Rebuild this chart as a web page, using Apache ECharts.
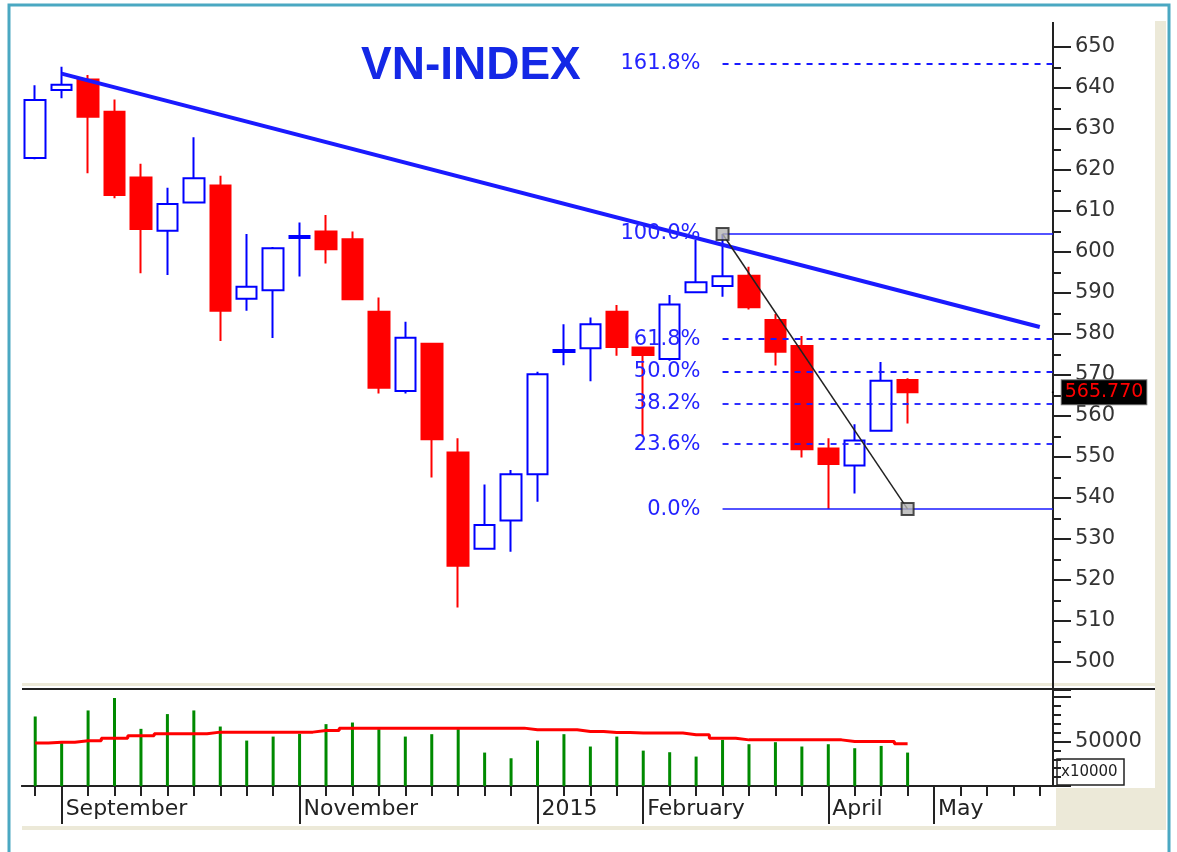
<!DOCTYPE html>
<html>
<head>
<meta charset="utf-8">
<title>VN-INDEX</title>
<script src="https://cdn.jsdelivr.net/npm/echarts@6/dist/echarts.min.js"></script>
<style>
html, body { margin: 0; padding: 0; background: #fff; }
#chart { width: 1177px; height: 852px; }
</style>
</head>
<body>
<div id="chart"></div>
<script>
// weekly bars (last trading day of each week), 5 empty future slots at the end
var weeks = [
    '2014-08-29', '2014-09-05', '2014-09-12', '2014-09-19', '2014-09-26',
    '2014-10-03', '2014-10-10', '2014-10-17', '2014-10-24', '2014-10-31',
    '2014-11-07', '2014-11-14', '2014-11-21', '2014-11-28', '2014-12-05',
    '2014-12-12', '2014-12-19', '2014-12-26', '2014-12-31', '2015-01-09',
    '2015-01-16', '2015-01-23', '2015-01-30', '2015-02-06', '2015-02-13',
    '2015-02-27', '2015-03-06', '2015-03-13', '2015-03-20', '2015-03-27',
    '2015-04-03', '2015-04-10', '2015-04-17', '2015-04-24', '2015-05-01',
    '2015-05-08', '2015-05-15', '2015-05-22', '2015-05-29'
];
var monthLabels = {1: 'September', 10: 'November', 19: '2015', 23: 'February', 30: 'April', 34: 'May'};

var openPx  = [622.9, 639.5, 642.1, 634.2, 618.2, 605.2, 612.1, 616.2, 588.6, 590.7,
               603.4, 605.0, 603.1, 585.4, 566.1, 577.6, 551.1, 527.6, 534.5, 545.8,
               575.6, 576.5, 585.4, 576.7, 573.9, 590.2, 591.7, 594.2, 583.4, 577.1,
               552.1, 547.9, 556.4, 568.8];
var closePx = [637.1, 640.8, 633.0, 613.9, 605.6, 611.7, 618.0, 585.7, 591.5, 600.9,
               603.9, 600.7, 588.5, 566.9, 579.1, 554.3, 523.5, 533.4, 545.8, 570.2,
               576.1, 582.4, 576.8, 574.9, 587.2, 592.6, 594.1, 586.5, 575.7, 551.9,
               548.3, 554.0, 568.6, 565.77];
var lowPx   = [622.6, 637.5, 619.2, 613.1, 594.8, 594.4, 611.9, 578.3, 585.7, 579.0,
               594.0, 597.2, 588.3, 565.5, 565.5, 545.0, 513.3, 527.6, 526.9, 539.1,
               572.4, 568.5, 574.7, 555.0, 573.5, 590.2, 589.1, 586.0, 572.3, 549.9,
               537.3, 541.1, 556.4, 558.2];
var highPx  = [640.7, 645.2, 643.2, 637.2, 621.5, 615.7, 628.0, 618.6, 604.4, 601.2,
               607.2, 609.0, 605.0, 588.9, 583.0, 577.8, 554.6, 543.3, 546.8, 570.8,
               582.4, 584.0, 587.1, 576.9, 589.5, 602.9, 604.4, 596.4, 584.9, 579.5,
               554.6, 558.0, 573.2, 569.2];

// volume in units of 10000 shares, and its moving average
var volume    = [78200, 48200, 85000, 99000, 64300, 80900, 85000, 66900, 51100, 55600,
                 58700, 69600, 71400, 64000, 55600, 58300, 64000, 37600, 31200, 51100,
                 58300, 44400, 55600, 39800, 38000, 33100, 51900, 47000, 49300, 44400,
                 47000, 42500, 45100, 37600];
var volumeAvg = [48300, 49300, 50800, 53800, 56400, 58700, 58700, 60600, 60600, 60600,
                 60600, 62400, 65100, 65100, 65100, 65100, 65100, 65100, 65100, 63200,
                 63200, 61300, 60200, 59500, 59500, 57600, 53800, 51900, 51900, 51900,
                 51900, 50000, 50000, 47400];

// drawings: trend line and fibonacci retracement (bar index, price)
var trendLine = [[1, 643.5], [38, 581.7]];
var fibHigh = [26, 604.4];
var fibLow = [33, 537.3];
var fibRatios = [1.618, 1.0, 0.618, 0.5, 0.382, 0.236, 0.0];
var fibLabels = ['161.8%', '100.0%', '61.8%', '50.0%', '38.2%', '23.6%', '0.0%'];
var lastClose = 565.77;

var FONT = 'DejaVu Sans';
var BLUE = '#1a1aff';
var xMax = weeks.length - 0.5;   // right edge of the last slot

var candles = openPx.map(function (o, i) {
    return [o, closePx[i], lowPx[i], highPx[i]];
});

var fibLines = fibRatios.map(function (r, i) {
    var lvl = fibLow[1] + r * (fibHigh[1] - fibLow[1]);
    var solid = (r === 1 || r === 0);
    return [{
        coord: [fibHigh[0], lvl],
        lineStyle: {color: BLUE, width: solid ? 1.5 : 1.8, type: solid ? 'solid' : [6, 6]},
        label: {
            show: true, position: 'start', distance: 22, formatter: fibLabels[i],
            color: '#2424ff', fontSize: 21, fontFamily: FONT
        }
    }, {
        coord: [xMax, lvl]
    }];
});
fibLines.push([{
    coord: fibHigh,
    lineStyle: {color: '#222', width: 1.5, type: 'solid'},
    label: {show: false}
}, {
    coord: fibLow
}]);

var isMonth = function (i) { return monthLabels[i] !== undefined; };

var chart = echarts.init(document.getElementById('chart'));

chart.setOption({
    animation: false,
    backgroundColor: '#fff',
    title: {
        text: 'VN-INDEX',
        left: 356,
        top: 38,
        textStyle: {fontSize: 46, fontWeight: 'bold', fontFamily: 'Liberation Sans', color: '#1428e6'}
    },
    grid: [
        {left: 22, top: 47, width: 1031, height: 615},
        {left: 22, top: 690, width: 1031, height: 96}
    ],
    xAxis: [{
        type: 'category', gridIndex: 0, data: weeks, show: false
    }, {
        type: 'value', gridIndex: 0, min: -0.5, max: xMax, show: false
    }, {
        type: 'category', gridIndex: 1, data: weeks, position: 'bottom',
        axisLine: {lineStyle: {color: '#222', width: 2}},
        axisTick: {show: true, alignWithLabel: true, interval: 0, length: 10, lineStyle: {color: '#222', width: 2}},
        axisLabel: {show: false}
    }, {
        type: 'category', gridIndex: 1, data: weeks, position: 'bottom',
        axisLine: {show: true, lineStyle: {color: '#222', width: 2}},
        axisTick: {
            show: true, alignWithLabel: true, length: 38, interval: isMonth,
            lineStyle: {color: '#222', width: 2}
        },
        axisLabel: {
            show: true,
            interval: isMonth,
            formatter: function (v, i) { return monthLabels[i] || ''; },
            align: 'left', padding: [0, 0, 0, 4], margin: 12,
            fontSize: 22, fontFamily: FONT, color: '#222'
        }
    }],
    yAxis: [{
        type: 'value', gridIndex: 0, position: 'right', min: 500, max: 650, interval: 10,
        splitLine: {show: false},
        axisLine: {show: true, onZero: false, lineStyle: {color: '#222', width: 2}},
        axisTick: {show: true, length: 18, lineStyle: {color: '#222', width: 2}},
        minorTick: {show: true, splitNumber: 2, length: 8, lineStyle: {color: '#222', width: 2}},
        axisLabel: {margin: 22, fontSize: 21, fontFamily: FONT, color: '#333'}
    }, {
        type: 'value', gridIndex: 1, position: 'right', min: 0, max: 108000, interval: 50000,
        splitLine: {show: false},
        axisLine: {show: true, onZero: false, lineStyle: {color: '#222', width: 2}},
        axisTick: {show: true, length: 18, lineStyle: {color: '#222', width: 2}},
        minorTick: {show: true, splitNumber: 5, length: 8, lineStyle: {color: '#222', width: 2}},
        axisLabel: {
            margin: 22, fontSize: 21, fontFamily: FONT, color: '#333',
            formatter: function (v) { return v === 50000 ? '50000' : ''; }
        }
    }],
    series: [{
        name: 'VN-INDEX',
        type: 'candlestick',
        xAxisIndex: 0, yAxisIndex: 0,
        barWidth: 21,
        data: candles,
        itemStyle: {
            color: '#ffffff', color0: '#ff0000',
            borderColor: '#0000ff', borderColor0: '#ff0000', borderWidth: 2
        },
        z: 2
    }, {
        name: 'trend',
        type: 'line',
        xAxisIndex: 1, yAxisIndex: 0,
        data: trendLine,
        symbol: 'none',
        lineStyle: {color: BLUE, width: 4},
        z: 3,
        markLine: {
            silent: true, symbol: 'none',
            data: fibLines
        }
    }, {
        name: 'last price',
        type: 'scatter',
        xAxisIndex: 1, yAxisIndex: 0,
        clip: false,
        data: [[xMax - 0.01, lastClose]],
        symbol: 'circle', symbolSize: 2,
        itemStyle: {color: '#000', opacity: 1},
        z: 10,
        label: {
            show: true, position: 'right', distance: 8, opacity: 1,
            formatter: lastClose.toFixed(3),
            color: '#ff0000', backgroundColor: '#000000', borderColor: '#777', borderWidth: 1,
            textBorderWidth: 0, padding: [3, 3, 2, 3], fontSize: 19, fontFamily: FONT
        }
    }, {
        name: 'fib points',
        type: 'scatter',
        xAxisIndex: 1, yAxisIndex: 0,
        data: [fibHigh, fibLow],
        symbol: 'rect', symbolSize: 12,
        itemStyle: {color: '#b4b4b4', borderColor: '#222', borderWidth: 2},
        z: 5
    }, {
        name: 'volume',
        type: 'bar',
        xAxisIndex: 2, yAxisIndex: 1,
        barWidth: 3,
        data: volume,
        itemStyle: {color: '#008a00'}
    }, {
        name: 'volume avg',
        type: 'line',
        xAxisIndex: 2, yAxisIndex: 1,
        step: 'middle',
        symbol: 'none',
        data: volumeAvg,
        lineStyle: {color: '#ff0000', width: 3}
    }],
    graphic: [
        {type: 'rect', shape: {x: 9, y: 5, width: 1160, height: 900}, style: {fill: 'none', stroke: '#4aa8c2', lineWidth: 3}},
        {type: 'rect', shape: {x: 1155, y: 21, width: 11, height: 809}, style: {fill: '#ece9d8'}},
        {type: 'rect', shape: {x: 1056, y: 788, width: 110, height: 42}, style: {fill: '#ece9d8'}},
        {type: 'rect', shape: {x: 22, y: 826, width: 1144, height: 4}, style: {fill: '#ece9d8'}},
        {type: 'rect', shape: {x: 22, y: 683, width: 1133, height: 3}, style: {fill: '#ece9d8'}},
        {type: 'line', shape: {x1: 22, y1: 689, x2: 1155, y2: 689}, style: {stroke: '#222', lineWidth: 2}},
        {type: 'line', shape: {x1: 1053, y1: 22, x2: 1053, y2: 689}, style: {stroke: '#222', lineWidth: 2}},
        {type: 'rect', shape: {x: 1057, y: 759, width: 67, height: 26}, style: {fill: '#fff', stroke: '#222', lineWidth: 1.5}},
        {type: 'text', style: {x: 1061, y: 772, text: 'x10000', fontSize: 15, fontFamily: FONT, fill: '#222', verticalAlign: 'middle'}}
    ]
});
</script>
</body>
</html>
